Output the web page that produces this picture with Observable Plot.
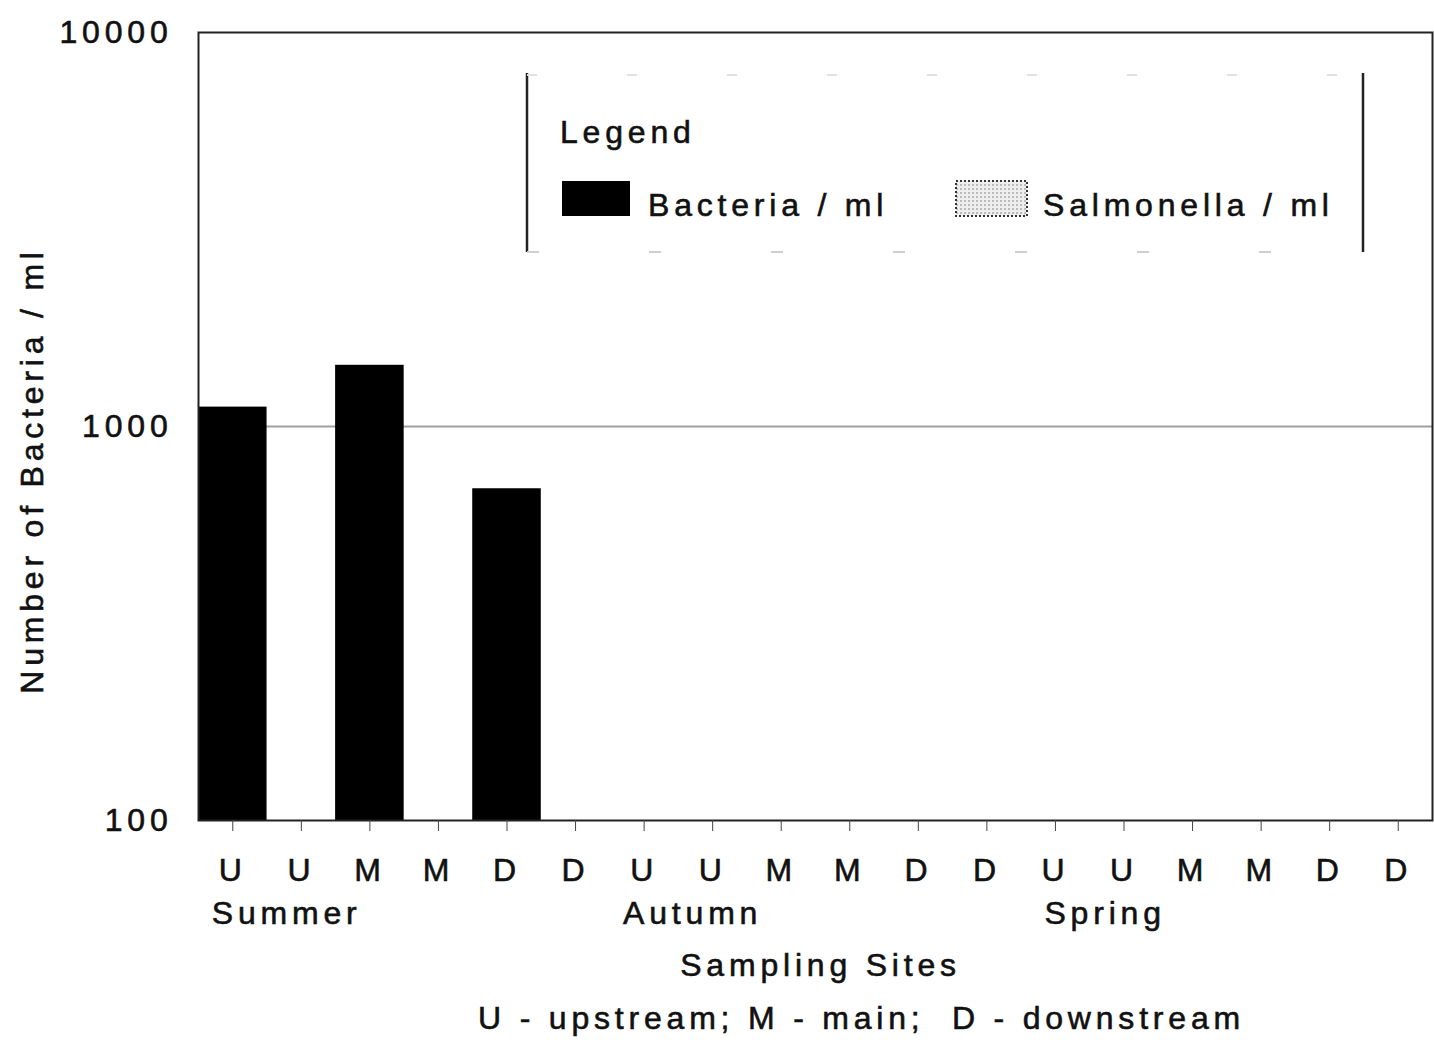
<!DOCTYPE html>
<html><head><meta charset="utf-8">
<script src="https://cdn.jsdelivr.net/npm/d3@7"></script>
<script src="https://cdn.jsdelivr.net/npm/@observablehq/plot@0.6"></script>
<style>
body{margin:0;background:#fff;}
#wrap{position:relative;width:1434px;height:1040px;}
#legend{position:absolute;left:0;top:0;pointer-events:none;}
#wrap svg text{stroke:#111;stroke-width:0.6px;}
</style></head><body><div id="wrap"></div>
<script>
// ---- data ----
const sites = ["U","U","M","M","D","D","U","U","M","M","D","D","U","U","M","M","D","D"];
const siteSeason = ["Summer","Summer","Summer","Summer","Summer","Summer",
                    "Autumn","Autumn","Autumn","Autumn","Autumn","Autumn",
                    "Spring","Spring","Spring","Spring","Spring","Spring"];
const seasons = ["Summer","Autumn","Spring"];
const bacteria = [1120,null,1430,null,695,null,null,null,null,null,null,null,null,null,null,null,null,null];
const salmonella = [null,null,null,null,null,null,null,null,null,null,null,null,null,null,null,null,null,null];
const yTicks = [100,1000,10000];
const legendTitle = "Legend";
const legendLabels = ["Bacteria / ml","Salmonella / ml"];
const xTitle = "Sampling Sites";
const caption = "U - upstream; M - main;  D - downstream";
const yTitle = "Number of Bacteria / ml";

const rows = sites.map((s,i)=>({key:i, site:s, season:siteSeason[i], bacteria:bacteria[i], salmonella:salmonella[i]}));
const seasonDx = {Summer:-21, Autumn:-21, Spring:-11};

const font = "'Liberation Sans', Arial, Helvetica, sans-serif";
const chart = Plot.plot({
  width:1434, height:1040,
  marginLeft:198, marginRight:2, marginTop:32, marginBottom:220,
  style:{fontFamily:font, fontSize:"32px", letterSpacing:"4.8px", color:"#111", background:"#fff"},
  x:{type:"band", domain:rows.map(d=>d.key), padding:0, round:false},
  y:{type:"log", domain:[100,10000]},
  marks:[
    Plot.ruleY([1000], {stroke:"#a0a0a0", strokeWidth:2}),
    Plot.barY(rows.filter(d=>d.bacteria!=null), {x:"key", y1:100, y2:"bacteria", fill:"#000"}),
    Plot.barY(rows.filter(d=>d.salmonella!=null), {x:"key", y1:100, y2:"salmonella", fill:"#ddd", stroke:"#333", strokeDasharray:"2,2"}),
    Plot.frame({stroke:"#222", strokeWidth:2}),
    Plot.axisY({ticks:yTicks, tickFormat:d3.format("d"), tickSize:0, tickPadding:26, label:null}),
    Plot.axisX({tickSize:11, tickPadding:27, tickFormat:i=>sites[i], label:null, stroke:"#444"}),
    ...seasons.map(s => Plot.text([s], {x:[rows.find(r=>r.season===s).key], frameAnchor:"bottom", dy:93, dx:seasonDx[s], textAnchor:"start", lineAnchor:"middle"})),
    Plot.text([xTitle], {frameAnchor:"bottom", dy:145, dx:5, lineAnchor:"middle"}),
    Plot.text([caption], {frameAnchor:"bottom", dy:198, dx:46, lineAnchor:"middle"}),
    Plot.text([yTitle], {frameAnchor:"left", dx:-166, dy:44, rotate:-90, textAnchor:"middle", lineAnchor:"middle"})
  ]
});
const wrap = document.getElementById("wrap");
wrap.appendChild(chart);

// ---- legend overlay ----
const lg = d3.select(wrap).append("svg").attr("id","legend")
  .attr("width",1434).attr("height",1040)
  .style("font-family",font).style("font-size","32px").style("letter-spacing","4.8px");
lg.append("line").attr("x1",527).attr("x2",527).attr("y1",73).attr("y2",252).attr("stroke","#222").attr("stroke-width",2.5);
lg.append("line").attr("x1",1363).attr("x2",1363).attr("y1",73).attr("y2",252).attr("stroke","#222").attr("stroke-width",2.5);
lg.append("line").attr("x1",527).attr("x2",1363).attr("y1",75).attr("y2",75).attr("stroke","#e2e2e2").attr("stroke-width",2).attr("stroke-dasharray","10,90");
lg.append("line").attr("x1",527).attr("x2",1363).attr("y1",252).attr("y2",252).attr("stroke","#cfcfcf").attr("stroke-width",2).attr("stroke-dasharray","12,110");
lg.append("text").attr("x",560).attr("y",143).attr("fill","#111").text(legendTitle);
const defs = lg.append("defs");
const pat = defs.append("pattern").attr("id","dots").attr("width",4).attr("height",4).attr("patternUnits","userSpaceOnUse");
pat.append("rect").attr("width",4).attr("height",4).attr("fill","#eee");
pat.append("rect").attr("width",2).attr("height",2).attr("fill","#bbb");
lg.append("rect").attr("x",562).attr("y",181).attr("width",68).attr("height",35).attr("fill","#000");
lg.append("text").attr("x",648).attr("y",216).attr("fill","#111").text(legendLabels[0]);
lg.append("rect").attr("x",956).attr("y",181).attr("width",71).attr("height",35).attr("fill","url(#dots)").attr("stroke","#333").attr("stroke-width",2).attr("stroke-dasharray","2,2");
lg.append("text").attr("x",1043).attr("y",216).attr("fill","#111").text(legendLabels[1]);
</script></body></html>
